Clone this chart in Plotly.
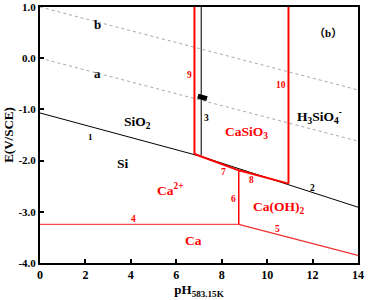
import plotly.graph_objects as go

# boundary lines (pH, E)
line1_ph = [0, 7.1]
line1_e = [-1.07, -1.92]
line2_ph = [7.1, 14]
line2_e = [-1.92, -2.91]
line3_ph = [7.1, 7.1]
line3_e = [1.0, -1.90]
line4_ph = [0, 8.75]
line4_e = [-3.245, -3.245]
line5_ph = [8.75, 14]
line5_e = [-3.245, -3.85]
line6_ph = [8.75, 8.75]
line6_e = [-2.19, -3.245]
line7_ph = [6.8, 8.75]
line7_e = [-1.87, -2.19]
line8_ph = [8.75, 10.94]
line8_e = [-2.19, -2.45]
line9_ph = [6.8, 6.8]
line9_e = [1.0, -1.87]
line10_ph = [10.94, 10.94]
line10_e = [1.0, -2.45]
line_a_ph = [0, 14]
line_a_e = [0.0, -1.62]
line_b_ph = [0, 14]
line_b_e = [1.0, -0.62]
mark_ph = [6.95, 7.35]
mark_e = [-0.74, -0.79]

x_ticks = [0, 2, 4, 6, 8, 10, 12, 14]
y_ticks = [1.0, 0.0, -1.0, -2.0, -3.0, -4.0]
y_tick_text = ["1.0", "0.0", "-1.0", "-2.0", "-3.0", "-4.0"]

CJK = '<span style="font-family:Noto Sans CJK SC">'
labels = [
    (2.55, 0.66, "b", "black", 13),
    (2.55, -0.30, "a", "black", 13),
    (4.3, -1.25, "SiO<sub>2</sub>", "black", 13.5),
    (2.24, -1.54, "1", "black", 9),
    (3.66, -2.05, "Si", "black", 13.5),
    (4.1, -3.15, "4", "red", 9.5),
    (6.75, -3.57, "Ca", "red", 13.5),
    (5.75, -2.56, "Ca<sup>2+</sup>", "red", 13.5),
    (8.5, -2.75, "6", "red", 9.5),
    (8.06, -2.22, "7", "red", 9.5),
    (9.33, -2.38, "8", "red", 9.5),
    (12.0, -2.54, "2", "black", 9.5),
    (10.5, -2.91, "Ca(OH)<sub>2</sub>", "red", 13.5),
    (10.45, -3.34, "5", "red", 9.5),
    (6.6, -0.32, "9", "red", 9.5),
    (7.35, -1.17, "3", "black", 9.5),
    (9.07, -1.46, "CaSiO<sub>3</sub>", "red", 13.5),
    (10.6, -0.52, "10", "red", 9.5),
    (12.3, -1.14, "H<sub>3</sub>SiO<sub>4</sub><sup>-</sup>", "black", 13.5),
    (12.7, 0.52, CJK + "（</span>b" + CJK + "）</span>", "black", 11),
]

SERIF = "Liberation Serif, Times New Roman, serif"

fig = go.Figure()

def add_line(x, y, color, width, dash="solid"):
    fig.add_trace(go.Scatter(x=x, y=y, mode="lines",
                             line=dict(color=color, width=width, dash=dash),
                             showlegend=False, hoverinfo="skip"))

add_line(line_a_ph, line_a_e, "#a8a8a8", 1, "dot")
add_line(line_b_ph, line_b_e, "#a8a8a8", 1, "dot")
add_line(line1_ph, line1_e, "black", 1)
add_line(line2_ph, line2_e, "black", 1)
add_line(line3_ph, line3_e, "#333333", 1.3)
add_line(line4_ph, line4_e, "#f05050", 1.3)
add_line(line5_ph, line5_e, "#f03030", 1.3)
add_line(line6_ph, line6_e, "#ff0000", 1.5)
add_line(line7_ph, line7_e, "#ff0000", 2)
add_line(line8_ph, line8_e, "#ff0000", 2)
add_line(line9_ph, line9_e, "#ff0000", 2)
add_line(line10_ph, line10_e, "#ff0000", 2)
add_line(mark_ph, mark_e, "black", 5)

for x, y, t, c, s in labels:
    fig.add_annotation(x=x, y=y, text="<b>" + t + "</b>", showarrow=False,
                       font=dict(color=c, size=s, family=SERIF))

fig.update_layout(
    width=368, height=300,
    margin=dict(l=40, r=10, t=7, b=37, autoexpand=False),
    plot_bgcolor="white", paper_bgcolor="white",
    font=dict(family=SERIF, size=11, color="black"),
)
fig.update_xaxes(range=[0, 14], tickvals=x_ticks,
                 ticktext=["<b>%d</b>" % v for v in x_ticks],
                 ticks="inside", ticklen=4, tickwidth=1.5, tickcolor="black",
                 showline=True, linecolor="black", linewidth=2, mirror=True,
                 showgrid=False, zeroline=False, automargin=False,
                 tickfont=dict(size=12, family=SERIF),
                 title=dict(text="<b>pH<sub>583.15K</sub></b>", standoff=2,
                            font=dict(size=13, family=SERIF)))
fig.update_yaxes(range=[-4, 1], tickvals=y_ticks,
                 ticktext=["<b>%s</b>" % t for t in y_tick_text],
                 ticks="inside", ticklen=4, tickwidth=1.5, tickcolor="black",
                 showline=True, linecolor="black", linewidth=2, mirror=True,
                 showgrid=False, zeroline=False, automargin=False,
                 tickfont=dict(size=11, family=SERIF),
                 title=dict(text="<b>E(V/SCE)</b>", standoff=2,
                            font=dict(size=13, family=SERIF)))

fig.write_html("out.html", config={"displayModeBar": False},
               post_script="document.body.style.margin='0';")
